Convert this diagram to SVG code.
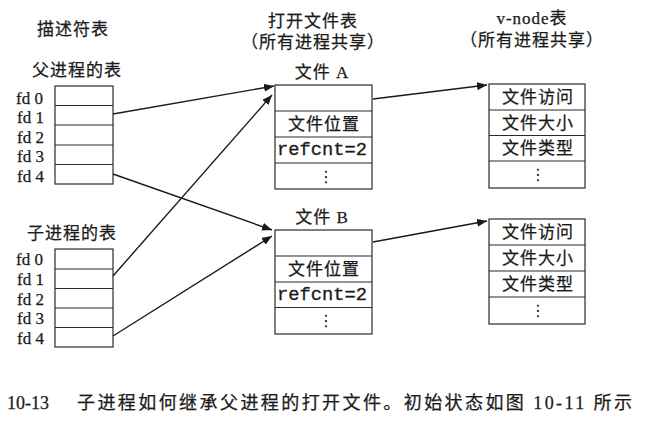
<svg xmlns="http://www.w3.org/2000/svg" width="650" height="425" viewBox="0 0 650 425">
<defs>
<marker id="arr" viewBox="0 0 10 8" refX="10" refY="4" markerWidth="10" markerHeight="8" markerUnits="userSpaceOnUse" orient="auto">
<path d="M0,0 L10,4 L0,8 Z" fill="#1a1a1a"/>
</marker>
<style>
.t{font-family:"Liberation Serif","Noto Sans CJK SC",serif;font-size:17px;fill:#1a1a1a;stroke:#1a1a1a;stroke-width:0.25px}
.c{letter-spacing:1px}
.m{font-family:"Liberation Mono","DejaVu Sans Mono",monospace;font-size:18px;fill:#1a1a1a;stroke:#1a1a1a;stroke-width:0.3px}
.d{font-family:"DejaVu Sans",sans-serif;font-size:16px;fill:#1a1a1a}
.box{fill:#fff;stroke:#2a2a2a;stroke-width:1.2}
.ln{stroke:#2a2a2a;stroke-width:1.1}
.cn{fill:none;stroke:#1a1a1a;stroke-width:1.4;marker-end:url(#arr)}
</style>
</defs>
<rect width="650" height="425" fill="#fff"/>

<g id="titles">
<text class="t c" x="73" y="35" text-anchor="middle">描述符表</text>
<text class="t c" x="313" y="27" text-anchor="middle">打开文件表</text>
<text class="t c" x="313" y="48" text-anchor="middle">（所有进程共享）</text>
<text class="t c" x="532" y="24" text-anchor="middle">v-node表</text>
<text class="t c" x="532" y="46" text-anchor="middle">（所有进程共享）</text>
</g>

<g id="parent-table">
<text class="t c" x="77" y="76" text-anchor="middle">父进程的表</text>
<rect class="box" x="55" y="86" width="58" height="98"/>
<line class="ln" x1="55" y1="105.5" x2="113" y2="105.5"/>
<line class="ln" x1="55" y1="125" x2="113" y2="125"/>
<line class="ln" x1="55" y1="145" x2="113" y2="145"/>
<line class="ln" x1="55" y1="164.5" x2="113" y2="164.5"/>
<text class="t" x="16" y="103.5">fd 0</text>
<text class="t" x="17" y="123">fd 1</text>
<text class="t" x="17" y="142.5">fd 2</text>
<text class="t" x="17" y="162">fd 3</text>
<text class="t" x="17" y="181.5">fd 4</text>
</g>

<g id="child-table">
<text class="t c" x="72" y="239" text-anchor="middle">子进程的表</text>
<rect class="box" x="55" y="249" width="58" height="98"/>
<line class="ln" x1="55" y1="269" x2="113" y2="269"/>
<line class="ln" x1="55" y1="288.5" x2="113" y2="288.5"/>
<line class="ln" x1="55" y1="308" x2="113" y2="308"/>
<line class="ln" x1="55" y1="327.5" x2="113" y2="327.5"/>
<text class="t" x="16" y="265">fd 0</text>
<text class="t" x="17" y="285">fd 1</text>
<text class="t" x="17" y="304.5">fd 2</text>
<text class="t" x="17" y="324">fd 3</text>
<text class="t" x="17" y="344">fd 4</text>
</g>

<g id="file-a">
<text class="t c" x="322" y="78" text-anchor="middle">文件 A</text>
<rect class="box" x="275" y="85" width="97" height="104"/>
<line class="ln" x1="275" y1="111" x2="372" y2="111"/>
<line class="ln" x1="275" y1="137" x2="372" y2="137"/>
<line class="ln" x1="275" y1="163" x2="372" y2="163"/>
<text class="t c" x="324" y="130" text-anchor="middle">文件位置</text>
<text class="m" x="277" y="155" textLength="90" lengthAdjust="spacingAndGlyphs">refcnt=2</text>
<text class="d" x="326" y="182" text-anchor="middle">⋮</text>
</g>

<g id="file-b">
<text class="t c" x="322" y="223" text-anchor="middle">文件 B</text>
<rect class="box" x="275" y="230" width="97" height="104"/>
<line class="ln" x1="275" y1="256" x2="372" y2="256"/>
<line class="ln" x1="275" y1="282" x2="372" y2="282"/>
<line class="ln" x1="275" y1="307.5" x2="372" y2="307.5"/>
<text class="t c" x="324" y="275" text-anchor="middle">文件位置</text>
<text class="m" x="277" y="300" textLength="90" lengthAdjust="spacingAndGlyphs">refcnt=2</text>
<text class="d" x="326" y="326" text-anchor="middle">⋮</text>
</g>

<g id="vnode-a">
<rect class="box" x="489" y="84" width="96" height="104"/>
<line class="ln" x1="489" y1="110" x2="585" y2="110"/>
<line class="ln" x1="489" y1="135.5" x2="585" y2="135.5"/>
<line class="ln" x1="489" y1="161" x2="585" y2="161"/>
<text class="t c" x="538" y="103" text-anchor="middle">文件访问</text>
<text class="t c" x="538" y="128.5" text-anchor="middle">文件大小</text>
<text class="t c" x="538" y="154" text-anchor="middle">文件类型</text>
<text class="d" x="538" y="180" text-anchor="middle">⋮</text>
</g>

<g id="vnode-b">
<rect class="box" x="489" y="219" width="96" height="105"/>
<line class="ln" x1="489" y1="245" x2="585" y2="245"/>
<line class="ln" x1="489" y1="271" x2="585" y2="271"/>
<line class="ln" x1="489" y1="297" x2="585" y2="297"/>
<text class="t c" x="538" y="238" text-anchor="middle">文件访问</text>
<text class="t c" x="538" y="264" text-anchor="middle">文件大小</text>
<text class="t c" x="538" y="290" text-anchor="middle">文件类型</text>
<text class="d" x="538" y="316" text-anchor="middle">⋮</text>
</g>

<g id="connectors">
<line class="cn" x1="113" y1="114" x2="274" y2="86"/>
<line class="cn" x1="113" y1="276" x2="272" y2="95"/>
<line class="cn" x1="113" y1="174" x2="272" y2="230"/>
<line class="cn" x1="113" y1="336" x2="272" y2="236"/>
<line class="cn" x1="373" y1="99" x2="487" y2="85"/>
<line class="cn" x1="373" y1="242" x2="487" y2="221"/>
</g>

<g id="caption">
<text class="t" x="7" y="409" style="font-size:18px">10-13</text>
<text class="t" x="77" y="409" style="font-size:18px" textLength="555" lengthAdjust="spacing">子进程如何继承父进程的打开文件。初始状态如图 10-11 所示</text>
</g>
</svg>
